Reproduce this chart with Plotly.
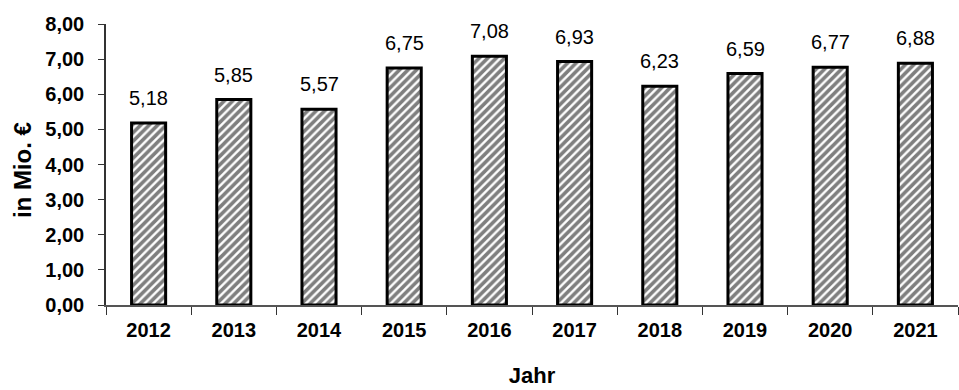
import plotly.graph_objects as go

years = ["2012", "2013", "2014", "2015", "2016", "2017", "2018", "2019", "2020", "2021"]
values = [5.18, 5.85, 5.57, 6.75, 7.08, 6.93, 6.23, 6.59, 6.77, 6.88]
y_ticks = [0, 1, 2, 3, 4, 5, 6, 7, 8]

labels = [f"{v:.2f}".replace(".", ",") for v in values]

fig = go.Figure(go.Bar(
    x=years, y=values,
    marker=dict(color="white",
                line=dict(color="black", width=3),
                pattern=dict(shape="/", fgcolor="black", bgcolor="white", size=6, solidity=0.6)),
    width=0.4,
))

for i, (v, lab) in enumerate(zip(values, labels)):
    fig.add_annotation(x=i, y=v, text=lab, showarrow=False, yanchor="bottom",
                       yshift=12, font=dict(size=20, family="Liberation Sans, Arial", color="black"))

# y-axis title placed as rotated annotation
fig.add_annotation(text="<b>in Mio. €</b>", textangle=-90, showarrow=False,
                   xref="paper", yref="paper", x=0, y=0.48, xanchor="center", yanchor="middle",
                   xshift=-84, font=dict(size=24, family="Liberation Sans, Arial", color="black"))

fig.update_layout(
    width=959, height=390,
    margin=dict(l=106, r=1, t=24, b=85),
    plot_bgcolor="white", paper_bgcolor="white",
    separators=",.",
    showlegend=False,
    font=dict(family="Liberation Sans, Arial", color="black"),
    xaxis=dict(
        type="category", tickson="boundaries", ticks="outside", ticklen=8,
        range=[-0.5, 9.5], tickangle=0,
        tickcolor="#333", showline=True, linecolor="#555", linewidth=1.5,
        tickfont=dict(size=20, family="Liberation Sans, Arial", weight="bold"),
        ticklabelstandoff=6,
        title=dict(text="<b>Jahr</b>", font=dict(size=22), standoff=28),
        showgrid=False,
    ),
    yaxis=dict(
        range=[0, 8], tickvals=y_ticks, tickformat=".2f",
        ticks="outside", ticklen=6, tickcolor="#333",
        showline=True, linecolor="#333", linewidth=1.5,
        showgrid=False, zeroline=False,
        tickfont=dict(size=20, family="Liberation Sans, Arial", weight="bold"),
        ticklabelstandoff=10,
    ),
)

fig.write_html("out.html")
